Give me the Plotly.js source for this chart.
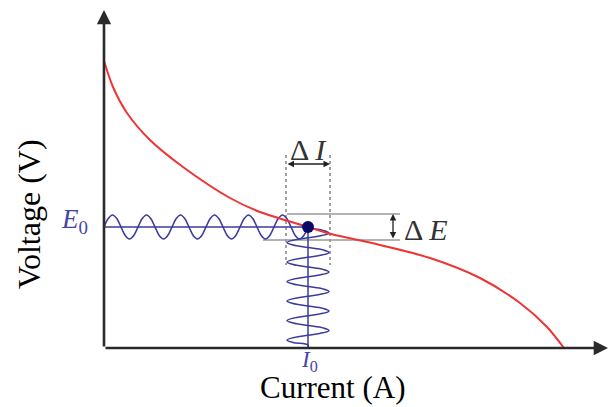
<!DOCTYPE html>
<html>
<head>
<meta charset="utf-8">
<script src="https://cdn.plot.ly/plotly-3.0.1.min.js"></script>
<style>html,body{margin:0;padding:0;background:#fff;}#chart{width:611px;height:407px;}</style>
</head>
<body>
<div id="chart"></div>
<script>
// Polarization curve (red) (arbitrary units)
const curveCurrent = [0, 9, 23, 46, 79, 126, 156, 204, 223, 276, 326, 376, 416, 443, 460];
const curveVoltage = [287, 261, 235, 208, 181, 150, 136, 121, 115, 103, 90, 70, 45, 21, 0];

// Operating point
const pointCurrent = [204];
const pointVoltage = [121];

// Voltage perturbation drawn along the voltage axis (horizontal wave)
const waveECurrent = [
  0, 4.25, 8.5, 12.75, 17, 21.25, 25.5, 29.75,
  34, 38.25, 42.5, 46.75, 51, 55.25, 59.5, 63.75,
  68, 72.25, 76.5, 80.75, 85, 89.25, 93.5, 97.75,
  102, 106.25, 110.5, 114.75, 119, 123.25, 127.5, 131.75,
  136, 140.25, 144.5, 148.75, 153, 157.25, 161.5, 165.75,
  170, 174.25, 178.5, 182.75, 187, 191.25, 195.5, 199.75,
  204];
const waveEVoltage = [
  121, 129.5, 133, 129.5, 121, 112.5, 109, 112.5,
  121, 129.5, 133, 129.5, 121, 112.5, 109, 112.5,
  121, 129.5, 133, 129.5, 121, 112.5, 109, 112.5,
  121, 129.5, 133, 129.5, 121, 112.5, 109, 112.5,
  121, 129.5, 133, 129.5, 121, 112.5, 109, 112.5,
  121, 129.5, 133, 129.5, 121, 112.5, 109, 112.5,
  121];

// Current response drawn along the current axis (vertical wave)
const waveICurrent = [
  204, 219, 225, 219, 204, 189, 183, 189,
  204, 219, 225, 219, 204, 189, 183, 189,
  204, 219, 225, 219, 204, 189, 183, 189,
  204, 219, 225, 219, 204, 189, 183, 189,
  204, 219, 225, 219, 204, 189, 183, 189,
  204, 219, 225, 219, 204, 189, 183, 189,
  204, 204];
const waveIVoltage = [
  120, 117.6, 115.1, 112.7, 110.3, 107.8, 105.4, 103,
  100.5, 98.1, 95.6, 93.2, 90.8, 88.3, 85.9, 83.5,
  81, 78.6, 76.1, 73.7, 71.3, 68.8, 66.4, 64,
  61.5, 59.1, 56.6, 54.2, 51.8, 49.3, 46.9, 44.5,
  42, 39.6, 37.1, 34.7, 32.3, 29.8, 27.4, 25,
  22.5, 20.1, 17.6, 15.2, 12.8, 10.3, 7.9, 5.5,
  3, 0];

// Perturbation bounds
const deltaIBounds = [182, 226];
const deltaEBounds = [108, 134];

// Labels
const xTitle = 'Current (A)';
const yTitle = 'Voltage (V)';
const labelE0 = '<i>E</i><sub>0</sub>';
const labelI0 = '<i>I</i><sub>0</sub>';
const labelDI = 'Δ\u2009<i>I</i>';
const labelDE = 'Δ\u2009<i>E</i>';

const X_MAX = 504, Y_MAX = 338;
const blue = '#3b3b99';
const serif = 'Liberation Serif, Times New Roman, serif';

const traces = [
  {x: [0, pointCurrent[0]], y: [pointVoltage[0], pointVoltage[0]], mode: 'lines', line: {color: blue, width: 1.5}, hoverinfo: 'skip'},
  {x: [pointCurrent[0], pointCurrent[0]], y: [pointVoltage[0], 0], mode: 'lines', line: {color: blue, width: 1.5}, hoverinfo: 'skip'},
  {x: waveECurrent, y: waveEVoltage, mode: 'lines', line: {color: blue, width: 1.6, shape: 'spline', smoothing: 1}, hoverinfo: 'skip'},
  {x: waveICurrent, y: waveIVoltage, mode: 'lines', line: {color: blue, width: 1.5, shape: 'spline', smoothing: 1}, hoverinfo: 'skip'},
  {x: curveCurrent, y: curveVoltage, mode: 'lines', line: {color: '#ee3535', width: 2, shape: 'spline', smoothing: 0.8}, hoverinfo: 'skip'},
  {x: pointCurrent, y: pointVoltage, mode: 'markers', marker: {color: '#0a0a6a', size: 12}, hoverinfo: 'skip'}
];

const dashed = {color: '#444', width: 1, dash: 'dot'};
const grayLine = {color: '#9a9a9a', width: 1.6};
const shapes = [
  {type: 'line', xref: 'x', yref: 'y', x0: deltaIBounds[0], x1: deltaIBounds[0], y0: 193, y1: 83, line: dashed, layer: 'below'},
  {type: 'line', xref: 'x', yref: 'y', x0: deltaIBounds[1], x1: deltaIBounds[1], y0: 193, y1: 83, line: dashed, layer: 'below'},
  {type: 'line', xref: 'x', yref: 'y', x0: 183, x1: 296, y0: deltaEBounds[1], y1: deltaEBounds[1], line: grayLine, layer: 'below'},
  {type: 'line', xref: 'x', yref: 'y', x0: 159, x1: 296, y0: deltaEBounds[0], y1: deltaEBounds[0], line: grayLine, layer: 'below'}
];

const px = v => v / X_MAX;          // data x -> paper x
const py = v => v / Y_MAX;          // data y -> paper y

const annotations = [
  // axes with arrow heads
  {x: X_MAX, y: 0, ax: 0, ay: 0, xref: 'x', yref: 'y', axref: 'x', ayref: 'y', showarrow: true, arrowhead: 2, arrowsize: 1.1, arrowwidth: 2.6, arrowcolor: '#2a2a2a', text: ''},
  {x: 0, y: Y_MAX, ax: 0, ay: 0, xref: 'x', yref: 'y', axref: 'x', ayref: 'y', showarrow: true, arrowhead: 2, arrowsize: 1.1, arrowwidth: 2.6, arrowcolor: '#2a2a2a', text: ''},
  // ΔI double arrow
  {x: deltaIBounds[1], y: 184, ax: deltaIBounds[0], ay: 184, xref: 'x', yref: 'y', axref: 'x', ayref: 'y', showarrow: true, arrowside: 'end+start', arrowhead: 2, arrowsize: 1, arrowwidth: 1.3, arrowcolor: '#222', text: ''},
  // ΔE double arrow
  {x: 289, y: deltaEBounds[1], ax: 289, ay: deltaEBounds[0], xref: 'x', yref: 'y', axref: 'x', ayref: 'y', showarrow: true, arrowside: 'end+start', arrowhead: 2, arrowsize: 1, arrowwidth: 1.3, arrowcolor: '#222', text: ''},
  // labels
  {x: 204, y: 199, xref: 'x', yref: 'y', text: labelDI, showarrow: false, xanchor: 'center', yanchor: 'middle', font: {family: serif, size: 30, color: '#333'}},
  {x: 298, y: 119, xref: 'x', yref: 'y', text: labelDE, showarrow: false, xanchor: 'left', yanchor: 'middle', font: {family: serif, size: 30, color: '#333'}},
  {x: px(-30), y: py(127), xref: 'paper', yref: 'paper', text: labelE0, showarrow: false, xanchor: 'center', yanchor: 'middle', font: {family: serif, size: 27, color: '#4545a5'}},
  {x: px(205), y: py(-13), xref: 'paper', yref: 'paper', text: labelI0, showarrow: false, xanchor: 'center', yanchor: 'middle', borderpad: 0, font: {family: serif, size: 23, color: '#4545a5'}},
  {x: px(228), y: py(-39), xref: 'paper', yref: 'paper', text: xTitle, showarrow: false, xanchor: 'center', yanchor: 'middle', borderpad: 0, font: {family: serif, size: 31, color: '#000'}},
  {x: px(-75), y: py(134), xref: 'paper', yref: 'paper', text: yTitle, showarrow: false, textangle: -90, xanchor: 'center', yanchor: 'middle', font: {family: serif, size: 32, color: '#000'}}
];

const axisStyle = {showgrid: false, zeroline: false, showline: false, showticklabels: false, ticks: '', fixedrange: true};
const layout = {
  width: 611, height: 407,
  margin: {l: 104, r: 3, t: 10, b: 59, pad: 0},
  paper_bgcolor: '#fff', plot_bgcolor: '#fff',
  showlegend: false,
  font: {family: serif},
  xaxis: Object.assign({range: [0, X_MAX]}, axisStyle),
  yaxis: Object.assign({range: [0, Y_MAX]}, axisStyle),
  shapes: shapes,
  annotations: annotations
};

Plotly.newPlot('chart', traces, layout, {displayModeBar: false, staticPlot: true});
</script>
</body>
</html>
